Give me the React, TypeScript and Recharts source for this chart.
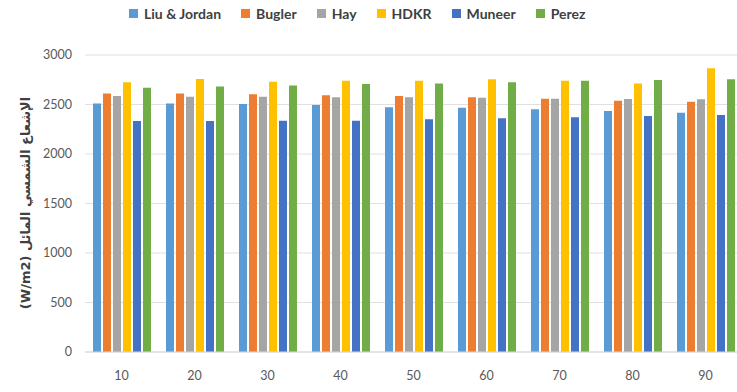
import React from 'react';
import { BarChart, Bar, XAxis, YAxis, CartesianGrid } from 'recharts';

const categories = ['10', '20', '30', '40', '50', '60', '70', '80', '90'];
const liuJordan = [2510, 2510, 2505, 2495, 2471, 2467, 2451, 2434, 2417];
const bugler = [2612, 2612, 2603, 2593, 2586, 2573, 2559, 2538, 2528];
const hay = [2586, 2579, 2579, 2573, 2573, 2569, 2559, 2555, 2552];
const hdkr = [2724, 2757, 2730, 2740, 2740, 2754, 2740, 2713, 2865];
const muneer = [2333, 2333, 2337, 2337, 2350, 2360, 2370, 2384, 2394];
const perez = [2670, 2683, 2693, 2707, 2713, 2724, 2740, 2747, 2754];
const yTicks = [0, 500, 1000, 1500, 2000, 2500, 3000];

const series = [
  { key: 'liu', name: 'Liu & Jordan', color: '#5B9BD5', values: liuJordan },
  { key: 'bugler', name: 'Bugler', color: '#ED7D31', values: bugler },
  { key: 'hay', name: 'Hay', color: '#A5A5A5', values: hay },
  { key: 'hdkr', name: 'HDKR', color: '#FFC000', values: hdkr },
  { key: 'muneer', name: 'Muneer', color: '#4472C4', values: muneer },
  { key: 'perez', name: 'Perez', color: '#70AD47', values: perez },
];

const data = categories.map((c, i) => {
  const row: Record<string, string | number> = { angle: c };
  series.forEach((s) => (row[s.key] = s.values[i]));
  return row;
});

const yLabel = 'الإشعاع الشمسي المائل (W/m2)';

export default function App() {
  return (
    <div
      style={{
        position: 'fixed',
        top: 0,
        left: 0,
        width: 737,
        height: 392,
        overflow: 'hidden',
        background: '#fff',
        fontFamily: 'Lato, sans-serif',
      }}
    >
      <div
        style={{
          position: 'absolute',
          top: 5,
          left: 129,
          display: 'flex',
          alignItems: 'center',
          gap: 20,
          fontSize: 14,
          fontWeight: 700,
          color: '#404040',
        }}
      >
        {series.map((s) => (
          <span key={s.key} style={{ display: 'flex', alignItems: 'center', gap: 6 }}>
            <span style={{ width: 9, height: 9, background: s.color, display: 'inline-block' }} />
            {s.name}
          </span>
        ))}
      </div>

      <div
        dir="rtl"
        style={{
          position: 'absolute',
          left: 25,
          top: 203,
          transform: 'translate(-50%, -50%) rotate(-90deg)',
          whiteSpace: 'nowrap',
          fontFamily: '"DejaVu Sans", sans-serif',
          fontSize: 13,
          fontWeight: 700,
          color: '#404040',
        }}
      >
        {yLabel}
      </div>

      <BarChart
        width={745}
        height={392}
        data={data}
        margin={{ top: 55, right: 3, bottom: 0, left: 0 }}
        barCategoryGap={8}
        barGap={2}
      >
        <CartesianGrid vertical={false} stroke="#E0E0E0" />
        <XAxis
          dataKey="angle"
          height={40}
          axisLine={{ stroke: '#D9D9D9' }}
          tickLine={false}
          tickSize={0}
          tickMargin={19}
          tick={{ fontSize: 12.5, fill: '#595959' }}
        />
        <YAxis
          width={85}
          domain={[0, 3000]}
          ticks={yTicks}
          axisLine={false}
          tickLine={false}
          tickSize={0}
          tickMargin={13}
          tick={{ fontSize: 12.5, fill: '#595959' }}
        />
        {series.map((s) => (
          <Bar key={s.key} dataKey={s.key} name={s.name} fill={s.color} isAnimationActive={false} />
        ))}
      </BarChart>
    </div>
  );
}
